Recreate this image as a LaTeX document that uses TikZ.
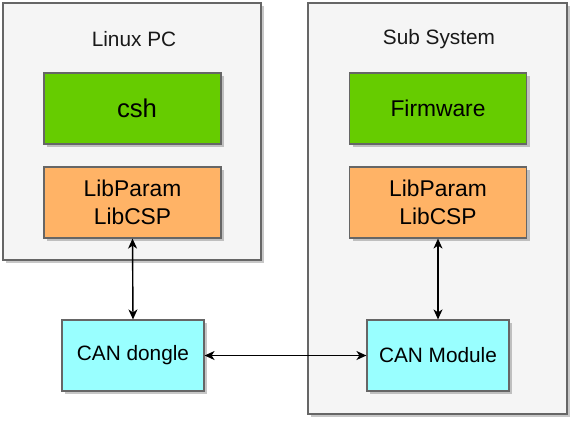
\documentclass[tikz,border=0pt]{standalone}
\usepackage{fontspec}
\setmainfont{Liberation Sans}
\usetikzlibrary{arrows.meta,shadows}
\definecolor{outerfill}{HTML}{F5F5F5}
\definecolor{edgegray}{HTML}{666666}
\definecolor{greenfill}{HTML}{66CC00}
\definecolor{orangefill}{HTML}{FFB366}
\definecolor{cyanfill}{HTML}{99FFFF}
\begin{document}
\begin{tikzpicture}[x=1pt,y=-1pt,
  boxbase/.style={rectangle, draw=edgegray, line width=1.2pt, inner sep=0pt,
    drop shadow={shadow xshift=3pt, shadow yshift=-3pt, fill=black, opacity=0.22}},
  outerbox/.style={boxbase, fill=outerfill},
  appbox/.style={boxbase, fill=greenfill, minimum width=177pt, minimum height=71pt, font=\fontsize{22.8}{27}\selectfont},
  libbox/.style={boxbase, fill=orangefill, minimum width=177pt, minimum height=71pt, align=center, font=\fontsize{22.8}{27.5}\selectfont},
  canbox/.style={boxbase, fill=cyanfill, minimum width=142pt, minimum height=71pt, font=\fontsize{20.8}{25}\selectfont},
  titletext/.style={font=\fontsize{20.8}{25}\selectfont, text=black!90},
  link/.style={line width=1.4pt, {Stealth[length=10pt,width=9pt,inset=3pt]}-{Stealth[length=10pt,width=9pt,inset=3pt]}}
]
\useasboundingbox (0,0) rectangle (575,421);
\node[outerbox, minimum width=258pt, minimum height=257pt] (pc) at (132,131.5) {};
\node[outerbox, minimum width=259pt, minimum height=411pt] (sub) at (437.5,208.5) {};
\node[titletext] (pctitle) at (134,39) {Linux PC};
\node[titletext] (subtitle) at (439,39) {Sub System};
\node[appbox] (csh) at (132.5,108.5) {\hspace{9pt}\fontsize{25.7}{30}\selectfont csh};
\node[libbox] (libl) at (132.5,202.5) {LibParam\\LibCSP};
\node[appbox] (fw) at (438,108.5) {Firmware};
\node[libbox] (libr) at (438,202.5) {LibParam\\LibCSP};
\node[canbox] (dongle) at (133,355.5) {CAN dongle};
\node[canbox] (module) at (438,355.5) {CAN Module};
\draw[link] (libl.south) -- (dongle.north);
\draw[link] (libr.south) -- (module.north);
\draw[link] (dongle.east) -- (module.west);
\end{tikzpicture}
\end{document}
